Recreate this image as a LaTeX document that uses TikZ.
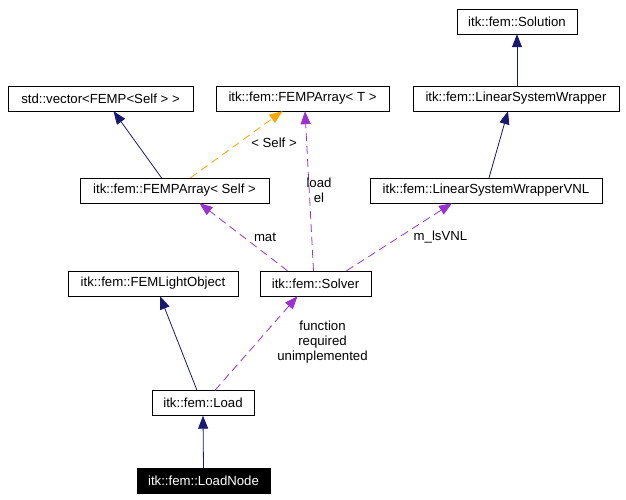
\documentclass[tikz,border=0pt]{standalone}
\usepackage{fontspec}
\setmainfont{Liberation Sans}
\usetikzlibrary{arrows.meta}
\definecolor{inhblue}{HTML}{191970}
\definecolor{usepurple}{HTML}{9A32CD}
\definecolor{tplorange}{HTML}{FFA500}

\begin{document}
\begin{tikzpicture}[x=1pt,y=-1pt,
    cls/.style={draw,fill=white,minimum height=25pt,inner sep=0pt,font=\fontsize{13.2}{15}\selectfont},
    inh/.style={draw=inhblue,line width=0.8pt,-{Triangle[length=13pt,width=10pt,fill=inhblue]}},
    use/.style={draw=usepurple,line width=0.8pt,dash pattern=on 8pt off 5pt,-{Triangle[length=13pt,width=10pt,fill=usepurple]}},
    tpl/.style={draw=tplorange,line width=0.8pt,dash pattern=on 8pt off 5pt,-{Triangle[length=13pt,width=10pt,fill=tplorange]}},
    lbl/.style={align=center,inner sep=0pt,font=\fontsize{13.2}{15}\selectfont}]
    \useasboundingbox (0,0) rectangle (626,500);
    % classes
    \node[cls,minimum width=120pt] (solution) at (517,21.5) {itk::fem::Solution};
    \node[cls,minimum width=185pt] (vector) at (100.5,98.5) {std::vector<FEMP<Self > >};
    \node[cls,minimum width=173pt] (fat) at (302.5,98.5) {itk::fem::FEMPArray< T >};
    \node[cls,minimum width=206pt] (lsw) at (516,98.5) {itk::fem::LinearSystemWrapper};
    \node[cls,minimum width=189pt] (faself) at (174.5,190.5) {itk::fem::FEMPArray< Self >};
    \node[cls,minimum width=232pt] (vnl) at (486,190.5) {itk::fem::LinearSystemWrapperVNL};
    \node[cls,minimum width=170pt] (lightobj) at (153,283.5) {itk::fem::FEMLightObject};
    \node[cls,minimum width=111pt] (solver) at (315.5,283.5) {itk::fem::Solver};
    \node[cls,minimum width=102pt] (load) at (203,403) {itk::fem::Load};
    \node[cls,minimum width=133pt,fill=black,text=white] (loadnode) at (203.5,480.5) {itk::fem::LoadNode};
    % inheritance
    \draw[inh] (loadnode.north) -- (load.south);
    \draw[inh] ([xshift=-6pt]load.north) -- ([xshift=7pt]lightobj.south);
    \draw[inh] ([xshift=-13pt]faself.north) -- ([xshift=13pt]vector.south);
    \draw[inh] ([xshift=3pt]vnl.north) -- ([xshift=-8pt]lsw.south);
    \draw[inh] ([xshift=1pt]lsw.north) -- (solution.south);
    % template instance
    \draw[tpl] ([xshift=16pt]faself.north) -- ([xshift=-20pt]fat.south);
    % usage
    \draw[use] ([xshift=12pt]load.north) -- ([xshift=-18pt]solver.south);
    \draw[use] ([xshift=-28pt]solver.north) -- ([xshift=25pt]faself.south);
    \draw[use] ([xshift=-2pt]solver.north) -- ([xshift=2.5pt]fat.south);
    \draw[use] ([xshift=31pt]solver.north) -- ([xshift=-34pt]vnl.south);
    % labels
    \node[lbl] (lself) at (274,143) {< Self >};
    \node[lbl] (lmat) at (265,237) {mat};
    \node[lbl] (lload) at (319,190) {load\\el};
    \node[lbl] (lvnl) at (440.5,237) {m\_lsVNL};
    \node[lbl] (lfunc) at (322.5,342) {function\\required\\unimplemented};
\end{tikzpicture}
\end{document}
